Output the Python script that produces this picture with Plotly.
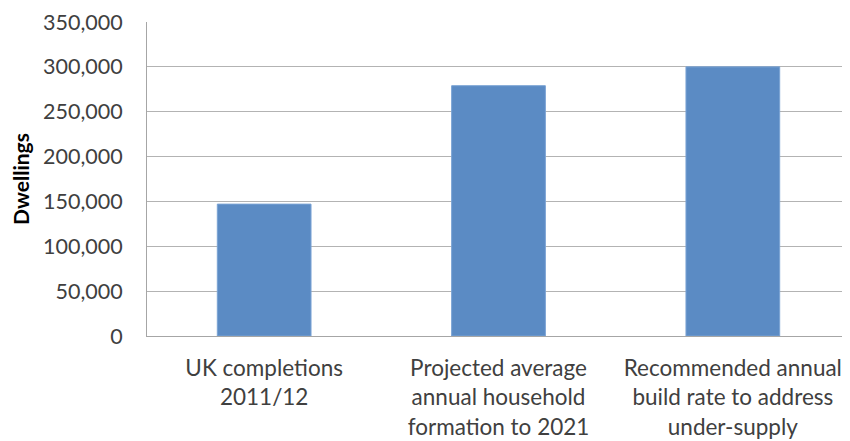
import plotly.graph_objects as go

categories = [
    "UK completions<br>2011/12",
    "Projected average<br>annual household<br>formation to 2021",
    "Recommended annual<br>build rate to address<br>under-supply",
]
dwellings = [147000, 279000, 300000]
tick_values = [0, 50000, 100000, 150000, 200000, 250000, 300000, 350000]
tick_labels = ["0", "50,000", "100,000", "150,000", "200,000", "250,000", "300,000", "350,000"]

font_family = "Lato, 'Liberation Sans', sans-serif"

fig = go.Figure(
    go.Bar(
        x=categories,
        y=dwellings,
        marker=dict(color="#5b8bc4", line=dict(color="#7aa3d4", width=1)),
        width=0.4,
    )
)

# page body has an 8px default margin; figure sized so the plot lands where the reference's does
fig.update_layout(
    width=842,
    height=433,
    margin=dict(l=139, r=0, t=14, b=105),
    paper_bgcolor="white",
    plot_bgcolor="white",
    showlegend=False,
    font=dict(family=font_family, size=21, color="#404040"),
)

fig.update_xaxes(
    automargin=False,
    showline=True,
    linecolor="#a6a6a6",
    linewidth=1,
    showgrid=False,
    ticks="",
    ticklabelstandoff=12,
    ticklabeloverflow="allow",
    tickfont=dict(size=22.5, color="#404040"),
)

fig.update_yaxes(
    automargin=False,
    range=[0, 350000],
    tickvals=tick_values,
    ticktext=tick_labels,
    showline=True,
    linecolor="#a6a6a6",
    linewidth=1,
    showgrid=True,
    gridcolor="#b3b3b3",
    gridwidth=1,
    zeroline=False,
    ticks="",
    ticklabelstandoff=19,
    ticklabeloverflow="allow",
    tickfont=dict(size=21.5, color="#404040"),
    title=dict(text="<b>Dwellings</b>", font=dict(size=21, color="#000000"), standoff=14),
)

fig.write_html("out.html")
